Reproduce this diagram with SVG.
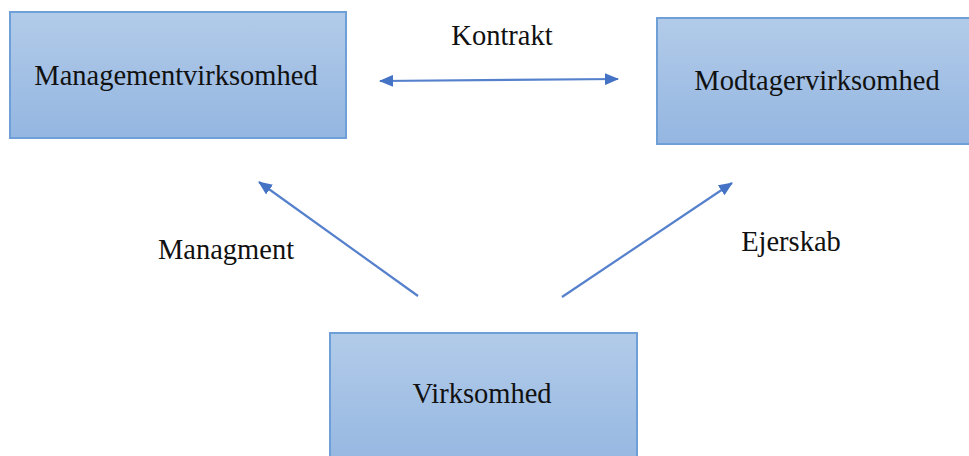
<svg xmlns="http://www.w3.org/2000/svg" width="969" height="456" viewBox="0 0 969 456">
  <style>
    .box { fill: url(#boxFill); stroke: #6e9fd6; stroke-width: 2; }
    .lbl { font-family: "Liberation Serif", "Times New Roman", serif; font-size: 28.5px; fill: #111; }
    .link { stroke: #5581cc; stroke-width: 2.2; fill: none; }
  </style>
  <defs>
    <linearGradient id="boxFill" x1="0" y1="0" x2="0" y2="1">
      <stop offset="0" stop-color="#b2cbe9"/>
      <stop offset="1" stop-color="#94b6e1"/>
    </linearGradient>
    <marker id="head" viewBox="0 0 14 12" refX="13" refY="6" markerWidth="14" markerHeight="12" markerUnits="userSpaceOnUse" orient="auto-start-reverse">
      <path d="M0,0 L14,6 L0,12 Z" fill="#4472c4"/>
    </marker>
  </defs>

  <rect width="969" height="456" fill="#ffffff"/>

  <g id="node-management">
    <rect class="box" x="10" y="12" width="336" height="126"/>
    <text class="lbl" x="176" y="85" text-anchor="middle">Managementvirksomhed</text>
  </g>

  <g id="node-modtager">
    <rect class="box" x="657" y="18" width="322" height="126"/>
    <text class="lbl" x="817" y="90" text-anchor="middle">Modtagervirksomhed</text>
  </g>

  <g id="node-virksomhed">
    <rect class="box" x="330" y="333" width="307" height="140"/>
    <text class="lbl" x="482" y="403" text-anchor="middle">Virksomhed</text>
  </g>

  <g id="connectors">
    <line class="link" x1="380" y1="81" x2="618" y2="79" marker-start="url(#head)" marker-end="url(#head)"/>
    <line class="link" x1="418" y1="296" x2="259" y2="182" marker-end="url(#head)"/>
    <line class="link" x1="562" y1="297" x2="732" y2="183" marker-end="url(#head)"/>
    <text class="lbl" x="502" y="45" text-anchor="middle">Kontrakt</text>
    <text class="lbl" x="226" y="259" text-anchor="middle">Managment</text>
    <text class="lbl" x="791" y="251" text-anchor="middle">Ejerskab</text>
  </g>
</svg>
